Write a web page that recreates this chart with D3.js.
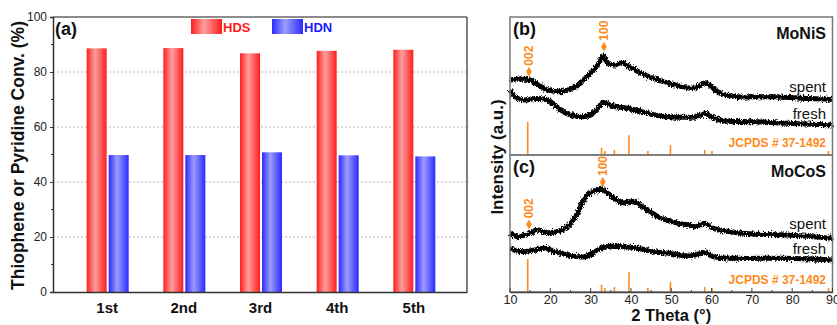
<!DOCTYPE html>
<html><head><meta charset="utf-8">
<script src="https://cdn.jsdelivr.net/npm/d3@7"></script>
<style>
html,body{margin:0;padding:0;background:#fff;}
svg{display:block;font-family:Arial,"Liberation Sans",Helvetica,sans-serif;}
</style></head>
<body><svg id="c" width="837" height="325"></svg>
<script>
// ---------- data ----------
const runs = ["1st", "2nd", "3rd", "4th", "5th"];
const hdsConv = [88.6, 88.7, 86.8, 87.7, 88.1];
const hdnConv = [49.8, 49.8, 50.8, 49.7, 49.3];
const convTicks = [0, 20, 40, 60, 80, 100];
const convMinor = [10, 30, 50, 70, 90];
const thetaTicks = [10, 20, 30, 40, 50, 60, 70, 80, 90];

// XRD traces: [2theta, intensity (a.u.)]
const moNiSSpent = [[10,75],[12,76],[13.7,75.7],[15,75],[17,70],[19.4,65],[22,63.3],[24.4,65],[26.9,70],[29.4,80],[31.6,88.3],[33.1,99],[34.3,91.7],[36,90],[37.8,92.3],[40.3,86.7],[43.5,80],[46.7,75],[50,71],[52.2,69],[54.7,66.7],[56.4,67.7],[58.4,72.3],[60.1,67.7],[62.1,61.7],[66.3,58.3],[74.5,58.3],[82.7,56.7],[90,55.7]];
const moNiSFresh = [[10,65],[11,59],[13.2,55],[15.5,56],[17.4,56.5],[20,53.5],[23,44],[27,38.5],[30,40],[31.8,47],[33.1,52.5],[35.5,49],[40,46],[46,40],[50,38],[53.9,37.7],[56.4,38.3],[58.4,41.7],[60.1,37.7],[62.9,34.3],[70.3,33.3],[78.7,31.7],[90,30]];
const moCoSSpent = [[10,58.7],[12,55.3],[14.5,58],[16.7,62],[19.4,59.3],[22.9,62],[25.4,70.3],[26.9,80.3],[29.1,97],[31.1,101.3],[32.8,102.7],[35.3,95.3],[37.8,89.3],[40.5,90.3],[43.5,83.7],[46.7,75.3],[50,70.3],[54,67],[56,65.3],[58,68.7],[60.4,63.7],[64.6,60.3],[70.3,58],[78.7,57],[90,53.7]];
const moCoSFresh = [[10,43.7],[13,40.3],[16.2,42],[18.7,43.7],[21.2,40.3],[24.4,37],[28.6,35.3],[31.8,42],[33.6,45.3],[37.8,45.3],[41.8,43.7],[46,40.3],[50,38.3],[54.7,36],[58.4,39.3],[60.4,35.3],[66.3,33.7],[78,33.7],[90,32]];

// JCPDS # 37-1492 reference sticks: [2theta, relative intensity]
const jcpdsSticks = [[14.4,100],[32.7,22],[33.5,12],[35.9,15],[39.5,60],[44.2,12],[49.8,30],[58.3,15],[60.1,12],[89.0,12]];

// peak markers: [hkl, 2theta, intensity]
const moNiSPeaks = [["002",14.7,83.3],["100",33.3,108.3]];
const moCoSPeaks = [["002",14.7,67.7],["100",33.0,110]];

// ---------- drawing ----------
const svg = d3.select("#c");
const defs = svg.append("defs");
function grad(id, edge, mid){
  const g = defs.append("linearGradient").attr("id", id).attr("x1","0%").attr("x2","100%").attr("y1","0%").attr("y2","0%");
  g.append("stop").attr("offset","0%").attr("stop-color",edge);
  g.append("stop").attr("offset","42%").attr("stop-color",mid);
  g.append("stop").attr("offset","100%").attr("stop-color",edge);
}
grad("gRed", "#ff1e1e", "#ff9e9e");
grad("gBlue", "#2a2aff", "#9c9cff");
const f = defs.append("filter").attr("id","noise").attr("x","-2%").attr("y","-30%").attr("width","104%").attr("height","160%");
f.append("feTurbulence").attr("type","fractalNoise").attr("baseFrequency","1.4 0.5").attr("numOctaves",2).attr("seed",4).attr("result","t");
f.append("feDisplacementMap").attr("in","SourceGraphic").attr("in2","t").attr("scale",6).attr("xChannelSelector","R").attr("yChannelSelector","G");

// ----- panel (a) -----
const L = {x0:53, x1:467, y0:17, y1:292};
const x = d3.scalePoint().domain(runs).range([L.x0, L.x1]).padding(0.7);
const y = d3.scaleLinear().domain([0,100]).range([L.y1, L.y0]);
const gA = svg.append("g");

gA.selectAll("line.grid").data([20,40,60,80]).join("line")
  .attr("x1", L.x0).attr("x2", L.x1).attr("y1", d=>y(d)).attr("y2", d=>y(d))
  .attr("stroke","#b4b4b4").attr("stroke-width",1).attr("stroke-dasharray","2,2");

const bw = 20;
gA.selectAll("rect.hds").data(hdsConv).join("rect")
  .attr("x", (d,i)=>x(runs[i]) - bw).attr("width", bw)
  .attr("y", d=>y(d)).attr("height", d=>y(0)-y(d)).attr("fill","url(#gRed)");
gA.selectAll("rect.hdn").data(hdnConv).join("rect")
  .attr("x", (d,i)=>x(runs[i]) + 2).attr("width", bw)
  .attr("y", d=>y(d)).attr("height", d=>y(0)-y(d)).attr("fill","url(#gBlue)");

gA.append("line").attr("x1",L.x0).attr("x2",L.x1).attr("y1",L.y0).attr("y2",L.y0).attr("stroke","#666").attr("stroke-width",1.5);
gA.append("line").attr("x1",L.x1).attr("x2",L.x1).attr("y1",L.y0).attr("y2",L.y1).attr("stroke","#555").attr("stroke-width",1.5);

const yAx = gA.append("g").attr("transform",`translate(${L.x0},0)`)
  .call(d3.axisLeft(y).tickValues(convTicks).tickSize(3).tickPadding(3));
yAx.select(".domain").attr("stroke","#333").attr("stroke-width",1.5);
yAx.selectAll(".tick line").attr("stroke","#333");
yAx.selectAll("text").attr("font-size",12).attr("fill","#222").attr("font-family","Arial, Liberation Sans, sans-serif");
gA.selectAll("line.minor").data(convMinor).join("line")
  .attr("x1",L.x0-2).attr("x2",L.x0).attr("y1",d=>y(d)).attr("y2",d=>y(d)).attr("stroke","#333");

const xAx = gA.append("g").attr("transform",`translate(0,${L.y1})`)
  .call(d3.axisBottom(x).tickSize(0).tickPadding(10));
xAx.select(".domain").attr("stroke","#333").attr("stroke-width",1.5);
xAx.selectAll("text").attr("font-size",15).attr("font-weight","bold").attr("fill","#111").attr("font-family","Arial, Liberation Sans, sans-serif");

gA.append("text").attr("transform",`translate(24,${(L.y0+L.y1)/2+1}) rotate(-90)`)
  .attr("text-anchor","middle").attr("font-size",17.5).attr("font-weight","bold").attr("fill","#111")
  .text("Thiophene or Pyridine Conv. (%)");
gA.append("text").attr("x",55).attr("y",35).attr("font-size",18).attr("font-weight","bold").attr("fill","#111").text("(a)");

gA.append("rect").attr("x",191).attr("y",19).attr("width",31).attr("height",15).attr("fill","url(#gRed)");
gA.append("text").attr("x",223).attr("y",31.5).attr("font-size",13).attr("font-weight","bold").attr("fill","#ff1a1a").text("HDS");
gA.append("rect").attr("x",272).attr("y",19).attr("width",31).attr("height",15).attr("fill","url(#gBlue)");
gA.append("text").attr("x",304).attr("y",31.5).attr("font-size",13).attr("font-weight","bold").attr("fill","#1a1aff").text("HDN");

// ----- panels (b),(c) -----
const R = {x0:510, x1:832.5};
const xt = d3.scaleLinear().domain([10,90]).range([R.x0, R.x1]);
const stickH = d3.scaleLinear().domain([0,100]).range([0,33]);
const orange = "#ff8a1c";

function panel(top, bottom, spent, fresh, peaks, tag, name, labYs){
  const g = svg.append("g");
  const yy = d3.scaleLinear().domain([0, bottom-top]).range([bottom, top]);
  const line = d3.line().x(d=>xt(d[0])).y(d=>yy(d[1])).curve(d3.curveCatmullRom.alpha(0.5));
  g.selectAll("line.stk").data(jcpdsSticks).join("line")
    .attr("x1",d=>xt(d[0])).attr("x2",d=>xt(d[0]))
    .attr("y1",bottom).attr("y2",d=>bottom - stickH(d[1]))
    .attr("stroke",orange).attr("stroke-width",1.6);
  [spent, fresh].forEach(s=>{
    g.append("path").datum(s).attr("d",line).attr("fill","none")
      .attr("stroke","#000").attr("stroke-width",5).attr("filter","url(#noise)");
  });
  peaks.forEach(p=>{
    const px = xt(p[1]), py = yy(p[2]);
    g.append("path").attr("d", d3.symbol().type(d3.symbolDiamond).size(28)())
      .attr("transform",`translate(${px},${py})`).attr("fill",orange);
    g.append("text").attr("transform",`translate(${px+4},${py-6}) rotate(-90)`)
      .attr("font-size",12).attr("font-weight","bold").attr("fill",orange).text(p[0]);
  });
  g.append("text").attr("x",513).attr("y",top+18).attr("font-size",18).attr("font-weight","bold").attr("fill","#111").text(tag);
  g.append("text").attr("x",826).attr("y",top+22).attr("text-anchor","end").attr("font-size",16).attr("font-weight","bold").attr("fill","#111").text(name);
  g.append("text").attr("x",826).attr("y",labYs[0]).attr("text-anchor","end").attr("font-size",15).attr("fill","#111").text("spent");
  g.append("text").attr("x",826).attr("y",labYs[1]).attr("text-anchor","end").attr("font-size",15).attr("fill","#111").text("fresh");
  g.append("text").attr("x",826).attr("y",labYs[2]).attr("text-anchor","end").attr("font-size",12).attr("font-weight","bold").attr("fill",orange).text("JCPDS # 37-1492");
  g.append("rect").attr("x",R.x0).attr("y",top).attr("width",R.x1-R.x0).attr("height",bottom-top)
    .attr("fill","none").attr("stroke","#777").attr("stroke-width",1.5);
  return g;
}
panel(17, 155, moNiSSpent, moNiSFresh, moNiSPeaks, "(b)", "MoNiS", [92, 118.5, 147]);
panel(155, 292, moCoSSpent, moCoSFresh, moCoSPeaks, "(c)", "MoCoS", [228.5, 254, 283.5]);

const tAx = svg.append("g").attr("transform",`translate(0,292)`)
  .call(d3.axisBottom(xt).tickValues(thetaTicks).tickSize(0).tickPadding(3));
tAx.select(".domain").attr("stroke","#444").attr("stroke-width",1.5);
tAx.selectAll("text").attr("font-size",12.5).attr("fill","#222").attr("font-family","Arial, Liberation Sans, sans-serif");
svg.selectAll("line.tt").data(d3.range(10,91,5)).join("line")
  .attr("x1",d=>xt(d)).attr("x2",d=>xt(d)).attr("y1",292).attr("y2",d=>d%10===0?288:290)
  .attr("stroke","#444").attr("stroke-width",1);

svg.append("text").attr("x",(R.x0+R.x1)/2).attr("y",320.5).attr("text-anchor","middle")
  .attr("font-size",16.5).attr("font-weight","bold").attr("fill","#111").text("2 Theta (°)");
svg.append("text").attr("transform",`translate(503,157) rotate(-90)`).attr("text-anchor","middle")
  .attr("font-size",17).attr("font-weight","bold").attr("fill","#111").text("Intensity (a.u.)");
</script></body></html>
